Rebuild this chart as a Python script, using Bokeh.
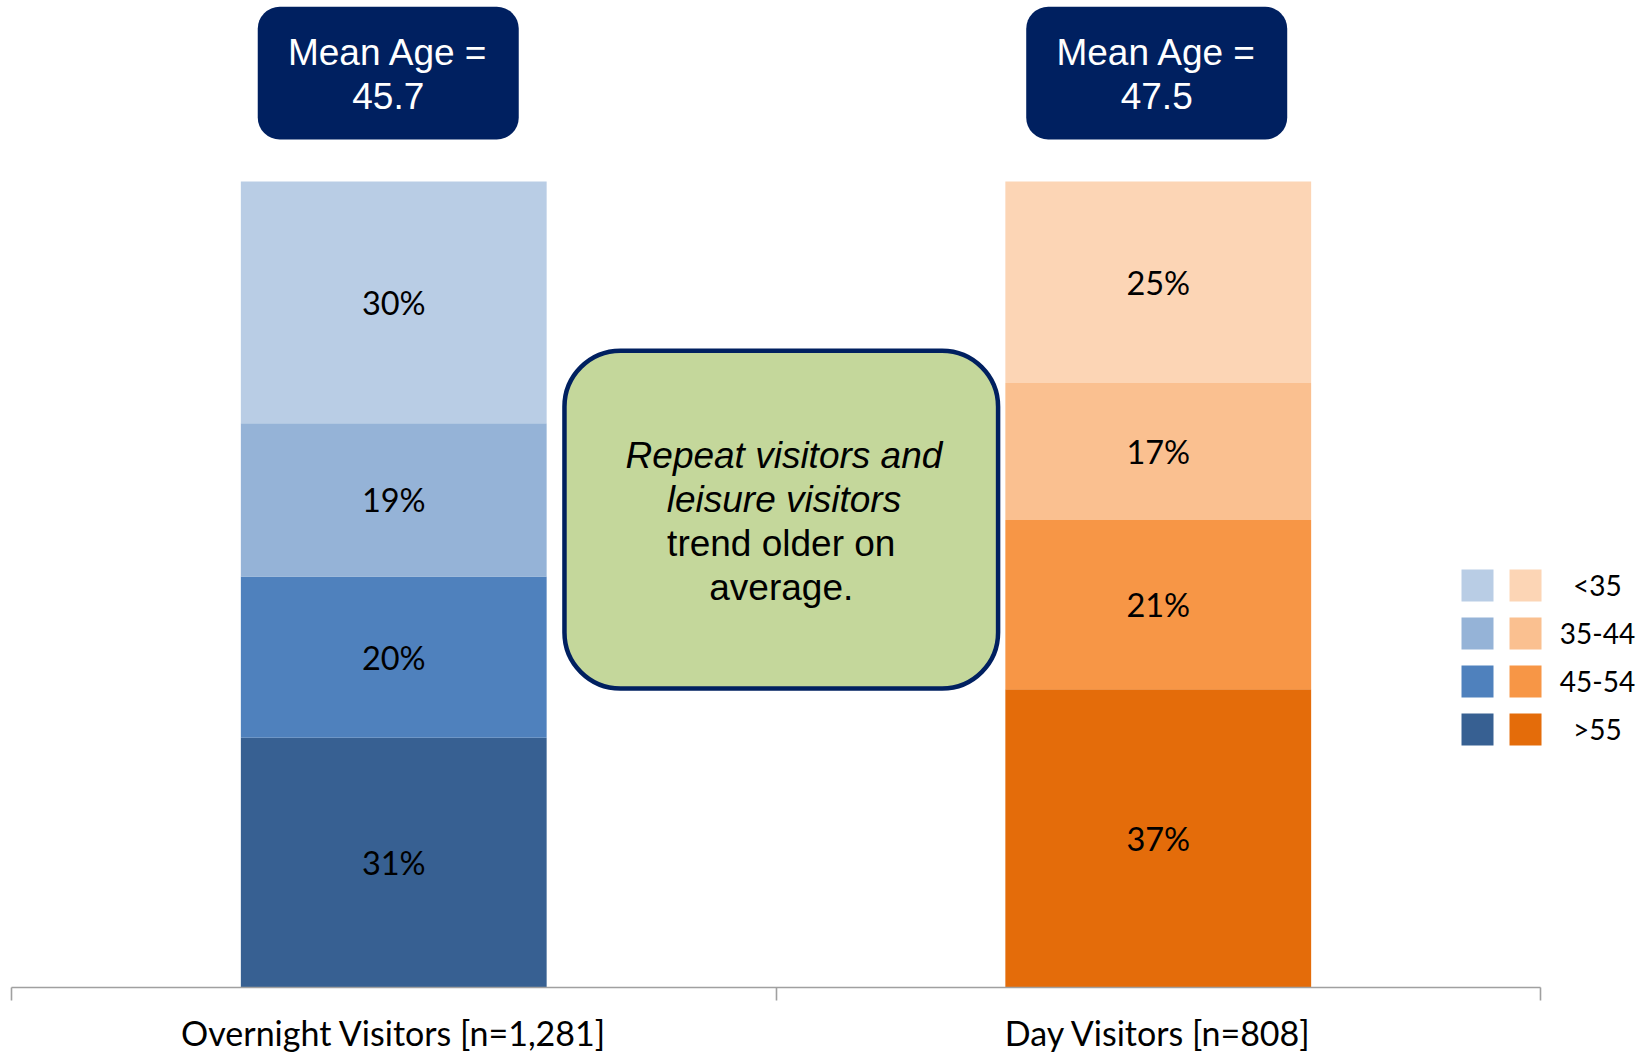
import numpy as np
from bokeh.plotting import figure
from bokeh.models import Range1d, FixedTicker, LinearAxis, ColumnDataSource
from bokeh.core.properties import value
from bokeh.embed import file_html
from bokeh.resources import INLINE

# ---------------- data ----------------
categories = ["Overnight Visitors [n=1,281]", "Day Visitors [n=808]"]
age_groups = ["<35", "35-44", "45-54", ">55"]          # top -> bottom of stack
overnight = [30, 19, 20, 31]
day = [25, 17, 21, 37]
mean_ages = [45.7, 47.5]
overnight_colors = ["#B9CDE5", "#95B3D7", "#4F81BD", "#376092"]
day_colors = ["#FCD5B5", "#FAC090", "#F79646", "#E46C0A"]
note_italic = ["Repeat visitors and", "leisure visitors"]
note_plain = ["trend older on", "average."]

# ---------------- layout constants ----------------
W, H = 1645, 1056
PX_X = 764.5          # px per category unit
X0 = 11               # px offset of x=0 in figure
FRAME_H = 987
PX_Y = 8.06           # px per percent
BAR_W = 0.4

p = figure(width=W, height=H,
           x_range=Range1d(-X0 / PX_X, (W - X0) / PX_X),
           y_range=Range1d(0, FRAME_H / PX_Y),
           output_backend="svg", toolbar_location=None,
           min_border_left=0, min_border_right=0, min_border_top=0, min_border_bottom=H - FRAME_H,
           x_axis_location=None, y_axis_location=None)
p.outline_line_color = None
p.grid.visible = False
p.background_fill_color = "white"
p.border_fill_color = "white"

centers = [i + 0.5 for i in range(len(categories))]

# stacked bars
xs, bottoms, tops, colors, labels, mids = [], [], [], [], [], []
for cx, vals, cols in zip(centers, [overnight, day], [overnight_colors, day_colors]):
    base = 0
    for v, c in zip(vals[::-1], cols[::-1]):
        xs.append(cx); bottoms.append(base); tops.append(base + v)
        colors.append(c); labels.append(f"{v}%"); mids.append(base + v / 2)
        base += v
src = ColumnDataSource(dict(x=xs, bottom=bottoms, top=tops, color=colors, label=labels, mid=mids))
p.vbar(x="x", bottom="bottom", top="top", width=BAR_W, fill_color="color", line_color=None, source=src)
p.text(x="x", y="mid", text="label", source=src, text_font=value("Lato"), text_font_size="32.5px",
       text_align="center", text_baseline="middle", text_color="#000000")

# axis
ax = LinearAxis(ticker=FixedTicker(ticks=centers, minor_ticks=[0, 1, 2]),
                major_label_overrides={c: lab for c, lab in zip(centers, categories)},
                bounds=(0, len(categories)))
ax.axis_line_color = "#A0A0A0"
ax.axis_line_width = 1.6
ax.major_tick_line_color = None
ax.major_tick_out = 0
ax.major_tick_in = 0
ax.minor_tick_line_color = "#A0A0A0"
ax.minor_tick_line_width = 1.6
ax.minor_tick_out = 13
ax.minor_tick_in = 0
ax.major_label_text_font = "Lato"
ax.major_label_text_font_size = "34px"
ax.major_label_text_color = "#000000"
ax.major_label_standoff = 11
p.add_layout(ax, "below")

# Mean age boxes (slightly offset from the category centres, as in the original)
box_w = 261 / PX_X
box_cx = [c + d for c, d in zip(centers, [-0.0072, -0.002])]
p.quad(left=[c - box_w / 2 for c in box_cx], right=[c + box_w / 2 for c in box_cx],
       top=[121.68] * 2, bottom=[105.21] * 2, border_radius=22,
       fill_color="#002060", line_color=None)
p.text(x=box_cx, y=[116.05] * 2, text=["Mean Age ="] * 2, text_font=value("Liberation Sans"),
       text_font_size="37px", text_align="center", text_baseline="middle", text_color="white")
p.text(x=box_cx, y=[110.57] * 2, text=[f"{m}" for m in mean_ages], text_font=value("Liberation Sans"),
       text_font_size="37px", text_align="center", text_baseline="middle", text_color="white")

# Note box
note_l, note_r = 0.7233, 1.2905
note_cx = (note_l + note_r) / 2
p.quad(left=[note_l], right=[note_r], top=[79.0], bottom=[37.1], border_radius=56,
       fill_color="#C4D79B", line_color="#002060", line_width=4.5)
p.text(x=[note_cx + 0.0035] * 2, y=[66.05, 60.57], text=note_italic, text_font=value("Liberation Sans"),
       text_font_style="italic", text_font_size="37px", text_align="center", text_baseline="middle",
       text_color="#000000")
p.text(x=[note_cx] * 2, y=[55.09, 49.63], text=note_plain, text_font=value("Liberation Sans"),
       text_font_size="37px", text_align="center", text_baseline="middle", text_color="#000000")

# Legend
leg_y = [49.88, 43.92, 37.97, 32.01]
p.rect(x=[1.9176] * 4, y=leg_y, width=32, height=32, width_units="screen", height_units="screen",
       fill_color=overnight_colors, line_color=None)
p.rect(x=[1.9804] * 4, y=leg_y, width=32, height=32, width_units="screen", height_units="screen",
       fill_color=day_colors, line_color=None)
p.text(x=[2.0745] * 4, y=leg_y, text=age_groups, text_font=value("Lato"), text_font_size="28px",
       text_align="center", text_baseline="middle", text_color="#000000")

open("out.html", "w").write(file_html(p, INLINE))
